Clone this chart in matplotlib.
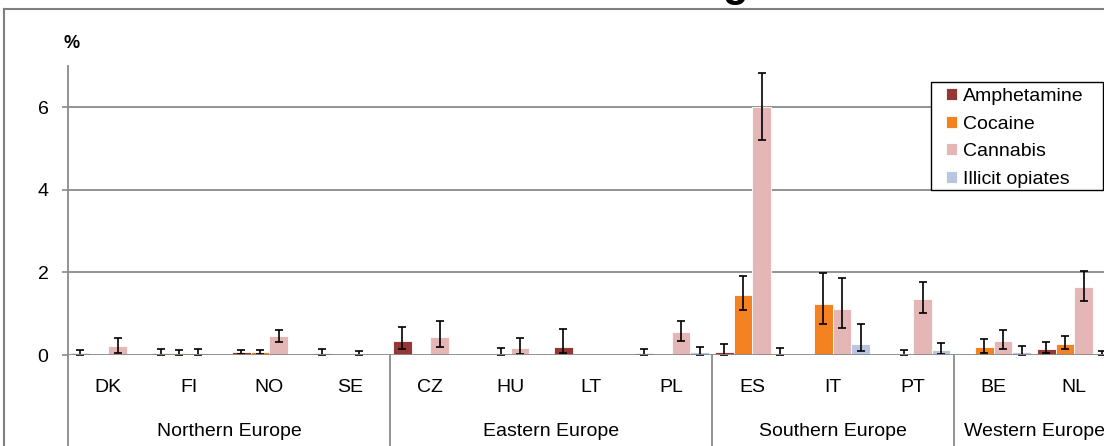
import matplotlib
matplotlib.use("Agg")
import matplotlib.pyplot as plt
from matplotlib.lines import Line2D
from matplotlib.patches import Rectangle
import numpy as np

plt.rcParams["font.family"] = ["Liberation Sans", "DejaVu Sans"]

countries = ["DK", "FI", "NO", "SE", "CZ", "HU", "LT", "PL", "ES", "IT", "PT", "BE", "NL"]
regions = ["Northern Europe", "Eastern Europe", "Southern Europe", "Western Europe"]
region_sizes = [4, 4, 3, 2]
drugs = ["Amphetamine", "Cocaine", "Cannabis", "Illicit opiates"]
colors = ["#953735", "#F58220", "#E4B7B6", "#B8C6E0"]

nan = np.nan
# prevalence (%) and confidence interval bounds per drug, one value per country
amph_val = [0.04, 0.04, 0.07, 0.06, 0.33, nan, 0.19, 0.04, 0.07, nan, nan, nan, 0.15]
amph_lo = [0.00, 0.00, 0.02, 0.01, 0.15, nan, 0.04, 0.00, 0.00, nan, nan, nan, 0.06]
amph_hi = [0.12, 0.15, 0.11, 0.15, 0.69, nan, 0.63, 0.15, 0.26, nan, nan, nan, 0.32]

coc_val = [nan, 0.04, 0.07, nan, nan, 0.03, nan, nan, 1.45, 1.23, 0.03, 0.19, 0.27]
coc_lo = [nan, 0.00, 0.02, nan, nan, 0.00, nan, nan, 1.08, 0.74, 0.00, 0.06, 0.15]
coc_hi = [nan, 0.11, 0.11, nan, nan, 0.18, nan, nan, 1.92, 1.99, 0.12, 0.39, 0.46]

can_val = [0.21, 0.04, 0.47, 0.03, 0.44, 0.16, nan, 0.55, 6.00, 1.11, 1.35, 0.33, 1.65]
can_lo = [0.06, 0.00, 0.31, 0.00, 0.20, 0.03, nan, 0.34, 5.21, 0.65, 1.02, 0.15, 1.30]
can_hi = [0.40, 0.15, 0.60, 0.10, 0.83, 0.40, nan, 0.82, 6.84, 1.87, 1.76, 0.60, 2.03]

opi_val = [nan, nan, nan, nan, nan, nan, nan, 0.08, 0.02, 0.27, 0.13, 0.07, 0.03]
opi_lo = [nan, nan, nan, nan, nan, nan, nan, 0.01, 0.00, 0.09, 0.03, 0.00, 0.00]
opi_hi = [nan, nan, nan, nan, nan, nan, nan, 0.20, 0.18, 0.74, 0.30, 0.23, 0.10]

series = [
    (amph_val, amph_lo, amph_hi),
    (coc_val, coc_lo, coc_hi),
    (can_val, can_lo, can_hi),
    (opi_val, opi_lo, opi_hi),
]

W, H = 1104, 446
fig = plt.figure(figsize=(W / 100, H / 100), dpi=100)

slot = 80.5
ax_left, ax_zero, ax_top = 68, 355, 66
ax = fig.add_axes([ax_left / W, (H - ax_zero) / H, len(countries) * slot / W, (ax_zero - ax_top) / H])

grid_c = "#8a8a8a"
fs = 14
x = np.arange(len(countries)) + 0.5
bw = 0.23
handles = []
for k, ((val, lo, hi), c, name) in enumerate(zip(series, colors, drugs)):
    val = np.array(val)
    lo = np.array(lo)
    hi = np.array(hi)
    pos = x + (k - 1.5) * bw
    m = ~np.isnan(val)
    bars = ax.bar(pos[m], val[m], bw, color=c, edgecolor="white", linewidth=0.6, label=name, zorder=3)
    handles.append(bars)
    ax.errorbar(pos[m], val[m], yerr=[val[m] - lo[m], hi[m] - val[m]], fmt="none",
                ecolor="black", elinewidth=1.2, capsize=3, capthick=1.2, zorder=4)

ax.set_xlim(0, len(countries))
ax.set_ylim(0, 7)
ax.set_yticks([0, 2, 4, 6])
for yv in [2, 4, 6]:
    ax.axhline(yv, color=grid_c, lw=1.3, zorder=1)
ax.axhline(0, color=grid_c, lw=1.3, zorder=5)
for s in ["top", "right", "bottom"]:
    ax.spines[s].set_visible(False)
ax.spines["left"].set_color(grid_c)
ax.spines["left"].set_linewidth(1.3)
ax.tick_params(axis="y", length=4, width=1.2, color=grid_c, labelsize=fs, pad=10)
ax.set_xticks([])

# category axis below the plot
trans = ax.get_xaxis_transform()
for i, cn in enumerate(countries):
    ax.text(x[i], (ax_zero - 387) / (ax_zero - ax_top), cn, transform=trans,
            ha="center", va="center", fontsize=fs, clip_on=False)
bounds = np.concatenate([[0], np.cumsum(region_sizes)])
for j, rg in enumerate(regions):
    ax.text((bounds[j] + bounds[j + 1]) / 2, (ax_zero - 432) / (ax_zero - ax_top), rg,
            transform=trans, ha="center", va="center", fontsize=fs, clip_on=False)
for b in bounds:
    ax.plot([b, b], [0, -(H - ax_zero) / (ax_zero - ax_top) - 0.05], transform=trans,
            color=grid_c, lw=1.3, clip_on=False)

fig.text(72 / W, 1 - 44 / H, "%", ha="center", va="center", fontsize=13, fontweight="bold")

# legend box drawn separately so its padding matches the original
fig.add_artist(Rectangle((931 / W, 1 - 190 / H), 172 / W, 108 / H, transform=fig.transFigure,
                         facecolor="white", edgecolor="black", lw=1.0, zorder=2))
fig.legend(handles, drugs, loc="upper left", bbox_to_anchor=(940 / W, 1 - 82 / H),
           frameon=False, fontsize=fs, handlelength=0.55, handleheight=0.55,
           handletextpad=0.35, labelspacing=0.55, borderpad=0.3, borderaxespad=0)

# outer chart frame and the cut-off title above it
fig.add_artist(Line2D([4 / W, 1], [1 - 9 / H, 1 - 9 / H], color="#7f7f7f", lw=1.5))
fig.add_artist(Line2D([4 / W, 4 / W], [0, 1 - 9 / H], color="#7f7f7f", lw=1.5))
fig.text(735 / W, 1 + 4 / H, "g", ha="center", va="baseline", fontsize=30, fontweight="bold")

fig.savefig("out.png", dpi=100)
